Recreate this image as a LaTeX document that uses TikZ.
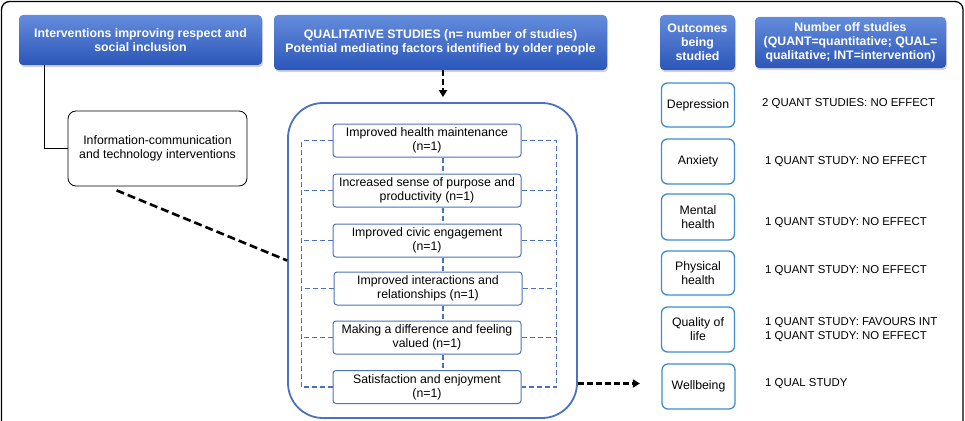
\documentclass[tikz,border=0pt]{standalone}
\usepackage{fontspec}
\setmainfont{Liberation Sans}
\usetikzlibrary{shadows,arrows.meta,calc}
\definecolor{hdrtop}{RGB}{100,140,220}
\definecolor{hdrbot}{RGB}{44,86,184}
\definecolor{boxblue}{RGB}{74,114,192}
\definecolor{outblue}{RGB}{62,140,205}
\begin{document}
\begin{tikzpicture}[x=1pt,y=-1pt,font=\fontsize{12.3}{14}\selectfont,
  hdr/.style={rounded corners=4pt, top color=hdrtop, bottom color=hdrbot, draw=none,
    text=white, font=\bfseries\fontsize{12.3}{14}\selectfont, align=center, inner sep=0pt,
    drop shadow={shadow xshift=1pt, shadow yshift=-2pt, opacity=0.35}},
  inbox/.style={draw=boxblue, line width=1pt, rounded corners=3pt, minimum width=188pt,
    minimum height=33pt, align=center, inner sep=0pt, fill=white},
  outbox/.style={draw=outblue, line width=1.3pt, rounded corners=6pt, minimum width=73pt,
    align=center, inner sep=0pt},
  study/.style={anchor=west, align=left, inner sep=0pt, font=\fontsize{11.4}{14}\selectfont},
  bdash/.style={draw=boxblue, line width=1.5pt, dash pattern=on 5pt off 3pt},
  kdash/.style={draw=black, line width=2.6pt, dash pattern=on 8pt off 4pt},
  karrow/.style={draw=black, line width=2.4pt, dash pattern=on 6pt off 3pt, -{Triangle[length=7pt,width=8pt]}}
]
\path[use as bounding box, clip] (0,0) rectangle (965,420);
% outer frame
\draw[line width=1.3pt, rounded corners=8pt] (1.5,1.5) rectangle (963,450);

% headers
\node[hdr, minimum width=243pt, minimum height=50pt] (h1) at (140.5,40)
  {Interventions improving respect and\\social inclusion};
\node[hdr, minimum width=333pt, minimum height=55pt] (h2) at (440.5,42.5)
  {QUALITATIVE STUDIES (n= number of studies)\\Potential mediating factors identified by older people};
\node[hdr, minimum width=75pt, minimum height=55pt] (h3) at (697.5,42.5)
  {Outcomes\\being\\studied};
\node[hdr, minimum width=191pt, minimum height=51pt] (h4) at (850.5,42.5)
  {Number off studies\\(QUANT=quantitative; QUAL=\\qualitative; INT=intervention)};

% ICT box
\node[draw, line width=0.8pt, rounded corners=8pt, minimum width=179pt, minimum height=75pt,
  align=center, inner sep=0pt] (ict) at (157.5,148.5)
  {Information-communication\\and technology interventions};
\coordinate (hx) at (44,0);
\draw[line width=1pt] (h1.south -| hx) |- (ict.west);

% big box
\node[draw=boxblue, line width=1.8pt, rounded corners=35pt, minimum width=289pt,
  minimum height=315pt] (big) at (432.5,260.5) {};

% inner boxes
\node[inbox] (b1) at (427,140.5) {Improved health maintenance\\(n=1)};
\node[inbox] (b2) at (427,190.5) {Increased sense of purpose and\\productivity (n=1)};
\node[inbox] (b3) at (427,240.5) {Improved civic engagement\\(n=1)};
\node[inbox] (b4) at (428,288.5) {Improved interactions and\\relationships (n=1)};
\node[inbox] (b5) at (427,337.5) {Making a difference and feeling\\valued (n=1)};
\node[inbox] (b6) at (427,387) {Satisfaction and enjoyment\\(n=1)};

\coordinate (vx) at (443,0);
\draw[bdash] (vx |- b1.south) -- (vx |- b2.north);
\draw[bdash] (vx |- b2.south) -- (vx |- b3.north);
\draw[bdash] (vx |- b3.south) -- (vx |- b4.north);
\draw[bdash] (vx |- b4.south) -- (vx |- b5.north);
\draw[bdash] (vx |- b5.south) -- (vx |- b6.north);

\draw[bdash] (b1.west) -- ++(-31,0) |- (b6.west);
\draw[bdash] (b2.west) -- ++(-31,0);
\draw[bdash] (b3.west) -- ++(-31,0);
\draw[bdash] (b4.west) -- ++(-32,0);
\draw[bdash] (b5.west) -- ++(-31,0);
\draw[bdash] (b1.east) -- ++(35,0) |- (b6.east);
\draw[bdash] (b2.east) -- ++(35,0);
\draw[bdash] (b3.east) -- ++(35,0);
\draw[bdash] (b4.east) -- ++(32,0);
\draw[bdash] (b5.east) -- ++(35,0);

% arrows
\draw[karrow, shorten >=5pt] (h2.south -| vx) -- (vx |- big.north);
\draw[kdash] ($(ict.south west)+(49,4)$) -- (big.west);

% outcome boxes
\node[outbox, minimum height=44pt] (o1) at (698,105) {Depression};
\node[outbox, minimum height=45pt] (o2) at (698,161.5) {Anxiety};
\node[outbox, minimum height=46pt] (o3) at (698,217) {Mental\\health};
\node[outbox, minimum height=44pt] (o4) at (698,273) {Physical\\health};
\node[outbox, minimum height=45pt] (o5) at (698,329.5) {Quality of\\life};
\node[outbox, minimum height=45pt] (o6) at (698.5,386.5) {Wellbeing};

\draw[karrow] (big.east |- o6) ++(0,-3) -- ++(62,0);

% study texts
\node[study] (s1) at (762,104) {2 QUANT STUDIES: NO EFFECT};
\node[study] (s2) at (765,162) {1 QUANT STUDY: NO EFFECT};
\node[study] (s3) at (765,223) {1 QUANT STUDY: NO EFFECT};
\node[study] (s4) at (765,271) {1 QUANT STUDY: NO EFFECT};
\node[study] (s5) at (765,330) {1 QUANT STUDY: FAVOURS INT\\1 QUANT STUDY: NO EFFECT};
\node[study] (s6) at (765,384) {1 QUAL STUDY};
\end{tikzpicture}
\end{document}
